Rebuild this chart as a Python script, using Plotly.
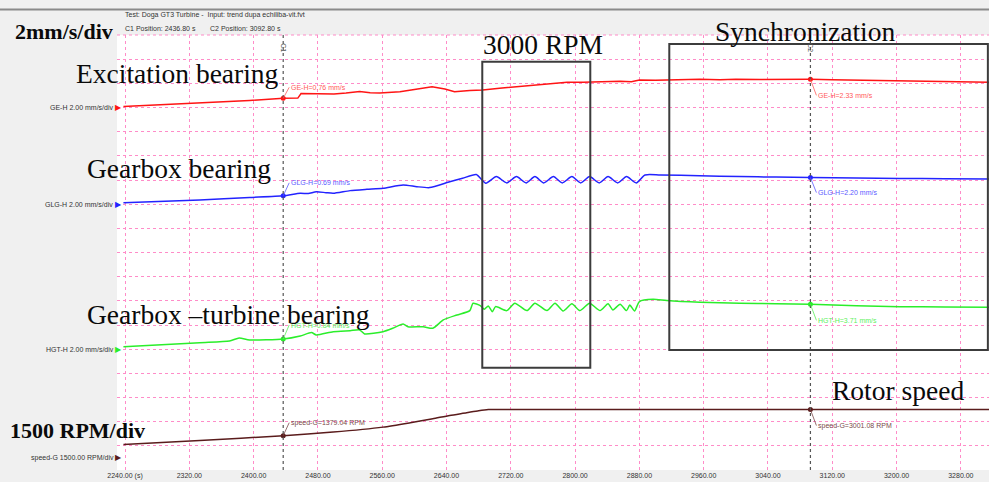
import plotly.graph_objects as go

# ---------------- data ----------------
ge_t = [2238, 2333, 2395, 2437, 2455, 2459, 2483, 2500, 2515, 2532, 2545, 2557, 2582, 2601, 2622, 2638,
        2650, 2669, 2685, 2706, 2726, 2748, 2770, 2790, 2810, 2831, 2856, 2870, 2880, 2900, 2930, 2955,
        2980, 3000, 3030, 3050, 3070, 3093, 3120, 3150, 3180, 3204, 3235, 3260, 3290, 3315]
ge_v = [0.08, 0.37, 0.58, 0.76, 0.78, 1.16, 1.16, 1.12, 1.20, 1.32, 1.22, 1.20, 1.31, 1.49, 1.72, 1.53,
        1.31, 1.41, 1.45, 1.59, 1.70, 1.86, 1.98, 2.09, 2.10, 2.14, 2.18, 2.14, 2.28, 2.26, 2.31, 2.33,
        2.30, 2.34, 2.31, 2.33, 2.35, 2.33, 2.30, 2.26, 2.24, 2.19, 2.17, 2.14, 2.11, 2.09]

glg_t = [2238, 2333, 2395, 2437, 2458, 2468, 2478, 2490, 2499, 2520, 2541, 2561, 2586, 2603, 2619, 2644,
         2660, 2677, 2689, 2702, 2715, 2727, 2739, 2750, 2761, 2773, 2784, 2796, 2807, 2818, 2830, 2841,
         2853, 2864, 2876, 2887, 2906, 2955, 3005, 3050, 3093, 3150, 3204, 3260, 3315]
glg_v = [0.12, 0.35, 0.55, 0.69, 0.90, 0.88, 1.03, 0.95, 0.90, 1.12, 1.23, 1.32, 1.59, 1.45, 1.37, 1.86,
         2.14, 2.45, 1.74, 2.28, 1.76, 2.28, 1.76, 2.28, 1.76, 2.28, 1.76, 2.28, 1.76, 2.28, 1.76, 2.28,
         1.76, 2.28, 1.76, 2.42, 2.42, 2.36, 2.28, 2.24, 2.20, 2.16, 2.13, 2.11, 2.09]

hgt_t = [2238, 2333, 2370, 2382, 2395, 2437, 2458, 2472, 2478, 2499, 2520, 2532, 2538, 2561, 2573, 2586,
         2592, 2611, 2623, 2636, 2653, 2669, 2673, 2682, 2687, 2692, 2697, 2701, 2715, 2725, 2740, 2750,
         2765, 2775, 2785, 2796, 2806, 2818, 2831, 2841, 2847, 2856, 2864, 2868, 2874, 2880, 2897, 2914,
         2955, 3005, 3050, 3093, 3150, 3204, 3260, 3315]
hgt_v = [0.20, 0.54, 0.68, 0.93, 0.76, 0.84, 1.09, 1.37, 1.18, 1.45, 1.53, 1.59, 1.26, 1.45, 1.73, 2.09,
         1.86, 1.86, 1.73, 2.42, 2.83, 3.19, 3.80, 3.60, 3.30, 3.58, 3.10, 3.52, 3.19, 3.80, 3.19, 3.80,
         3.19, 3.80, 3.16, 3.75, 3.19, 3.80, 3.19, 3.75, 3.25, 3.72, 3.19, 3.65, 3.16, 3.94, 4.13, 4.02,
         3.88, 3.80, 3.76, 3.71, 3.60, 3.52, 3.49, 3.47]

spd_t = [2238, 2333, 2437, 2499, 2561, 2595, 2623, 2644, 2665, 2680, 2692, 2750, 2900, 3093, 3200, 3315]
spd_v = [830, 1086, 1379, 1601, 1911, 2184, 2433, 2638, 2805, 2930, 3000, 3001, 3001, 3001.08, 3001, 3001]

cursor_t = [2436.8, 3092.8]
ge_cur = [0.76, 2.33]
glg_cur = [0.69, 2.20]
hgt_cur = [0.84, 3.71]
spd_cur = [1379.04, 3001.08]

x_tickvals = [2240, 2320, 2400, 2480, 2560, 2640, 2720, 2800, 2880, 2960, 3040, 3120, 3200, 3280]
x_ticktext = ["2240.00 (s)", "2320.00", "2400.00", "2480.00", "2560.00", "2640.00", "2720.00",
              "2800.00", "2880.00", "2960.00", "3040.00", "3120.00", "3200.00", "3280.00"]

# ---------------- styling ----------------
RED, BLUE, GREEN, BROWN = "#ff1414", "#2323ff", "#2bee2b", "#5a1c1c"
RED_L, BLUE_L, GREEN_L, BROWN_L = "#ff5a5a", "#5a5aff", "#5cf05c", "#7a4a4a"
PINK = "#ff8cc8"
SERIF = "Liberation Serif, Times New Roman, serif"
SANS = "Liberation Sans, Arial, sans-serif"

W, H = 989, 482
L, R, T, B = 117, 0, 35, 12
PW, PH = W - L - R, H - T - B


def px(x):
    return (x - L) / PW


def py(y):
    return (H - B - y) / PH


fig = go.Figure()

series = [
    (ge_t, ge_v, ge_cur, RED, "y", "linear"),
    (glg_t, glg_v, glg_cur, BLUE, "y2", "spline"),
    (hgt_t, hgt_v, hgt_cur, GREEN, "y3", "spline"),
    (spd_t, spd_v, spd_cur, BROWN, "y4", "spline"),
]
for t, v, cur, col, ya, shape in series:
    fig.add_trace(go.Scatter(x=t, y=v, mode="lines", yaxis=ya,
                             line=dict(color=col, width=1.5, shape=shape, smoothing=0.6),
                             hoverinfo="skip", showlegend=False))
    fig.add_trace(go.Scatter(x=cursor_t, y=cur, mode="markers", yaxis=ya,
                             marker=dict(color=col, size=5), hoverinfo="skip", showlegend=False))

shapes = []
# cursors
for ct in cursor_t:
    shapes.append(dict(type="line", xref="x", yref="paper", x0=ct, x1=ct, y0=0, y1=1,
                       line=dict(color="#555555", width=1.2, dash="dot")))
# highlight boxes
shapes.append(dict(type="rect", xref="x", yref="paper", x0=2684.5, x1=2818.9,
                   y0=py(367.7), y1=py(61.7), line=dict(color="#3c3c3c", width=2)))
shapes.append(dict(type="rect", xref="x", yref="paper", x0=2917.2, x1=3313.6,
                   y0=py(350), y1=py(44), line=dict(color="#3c3c3c", width=2)))
# top edge grid & header rule
shapes.append(dict(type="line", xref="paper", yref="paper", x0=0, x1=1, y0=1, y1=1,
                   line=dict(color=PINK, width=1, dash="dot")))
shapes.append(dict(type="line", xref="paper", yref="paper", x0=px(0), x1=1, y0=py(9.5), y1=py(9.5),
                   line=dict(color="#8a8a8a", width=2)))

ann = []
# cursor value labels
labels = [
    ("GE-H", ge_cur, "mm/s", RED_L, "y", (-11, 16)),
    ("GLG-H", glg_cur, "mm/s", BLUE_L, "y2", (-13, 15)),
    ("HGT-H", hgt_cur, "mm/s", GREEN_L, "y3", (-14, 16)),
    ("speed-G", spd_cur, "RPM", BROWN_L, "y4", (-13, 16)),
]
for name, cur, unit, col, ya, (ay1, ay2) in labels:
    for i, (ct, val) in enumerate(zip(cursor_t, cur)):
        ann.append(dict(x=ct, y=val, xref="x", yref=ya, text=f"{name}={val:.2f} {unit}",
                        showarrow=True, arrowhead=0, arrowwidth=0.8, arrowcolor=col,
                        ax=6, ay=ay1 if i == 0 else ay2, xanchor="left", yanchor="middle",
                        font=dict(family=SANS, size=7, color=col)))

# left channel labels at each zero level
left = [("GE-H 2.00 mm/s/div", RED, "y"), ("GLG-H 2.00 mm/s/div", BLUE, "y2"),
        ("HGT-H 2.00 mm/s/div", GREEN, "y3"), ("speed-G 1500.00 RPM/div", BROWN, "y4")]
for txt, col, ya in left:
    ann.append(dict(x=px(123.5), y=0, xref="paper", yref=ya, xanchor="right", yanchor="middle",
                    showarrow=False,
                    text=f"{txt} <span style='color:{col};font-size:8px'>▶</span>",
                    font=dict(family=SANS, size=7, color="#333333")))

# header
ann.append(dict(x=px(123), y=py(15), xref="paper", yref="paper", xanchor="left", yanchor="middle",
                showarrow=False, text="Test: Doga GT3 Turbine -  Input: trend dupa echiliba-vit.fvt",
                font=dict(family=SANS, size=7, color="#333333")))
ann.append(dict(x=px(123), y=py(28), xref="paper", yref="paper", xanchor="left", yanchor="middle",
                showarrow=False, text="C1 Position: 2436.80 s",
                font=dict(family=SANS, size=7, color="#333333")))
ann.append(dict(x=px(208), y=py(28), xref="paper", yref="paper", xanchor="left", yanchor="middle",
                showarrow=False, text="C2 Position: 3092.80 s",
                font=dict(family=SANS, size=7, color="#333333")))
for lbl, ct in zip(["C1", "C2"], cursor_t):
    ann.append(dict(x=ct, y=py(41), xref="x", yref="paper", showarrow=False, text=lbl, textangle=90,
                    font=dict(family=SANS, size=7, color="#555555")))

# big overlay texts
big = [
    ("<b>2mm/s/div</b>", 64, 31, 22),
    ("Excitation bearing", 177, 73, 27.5),
    ("Gearbox bearing", 179, 168, 27.5),
    ("Gearbox –turbine bearing", 228, 314, 27.5),
    ("<b>1500 RPM/div</b>", 77, 430, 22),
    ("3000 RPM", 543, 45, 27.5),
    ("Synchronization", 805, 31, 27.5),
    ("Rotor speed", 898, 391, 27.5),
]
for txt, x, y, s in big:
    ann.append(dict(x=px(x), y=py(y), xref="paper", yref="paper", xanchor="center", yanchor="middle",
                    showarrow=False, text=txt, font=dict(family=SERIF, size=s, color="#0a0a0a")))

grid = dict(showgrid=True, gridcolor=PINK, griddash="dot", gridwidth=1, zeroline=False)
fig.update_layout(
    width=W, height=H, margin=dict(l=L, r=R, t=T, b=B, pad=0),
    paper_bgcolor="#f0f0f0", plot_bgcolor="white",
    xaxis=dict(range=[2230, 3315], tickvals=x_tickvals, ticktext=x_ticktext, ticks="",
               tickfont=dict(family=SANS, size=7, color="#333333"), showline=False, **grid),
    yaxis=dict(range=[-30, 6], tick0=0, dtick=2, showticklabels=False, ticks="", showline=False, **grid),
    yaxis2=dict(range=[-22, 14], overlaying="y", visible=False),
    yaxis3=dict(range=[-10, 26], overlaying="y", visible=False),
    yaxis4=dict(range=[-750, 26250], overlaying="y", visible=False),
    shapes=shapes, annotations=ann, showlegend=False,
)

fig.write_html("out.html", config={"displayModeBar": False},
               post_script="document.body.style.margin='0';document.body.style.overflow='hidden';")
